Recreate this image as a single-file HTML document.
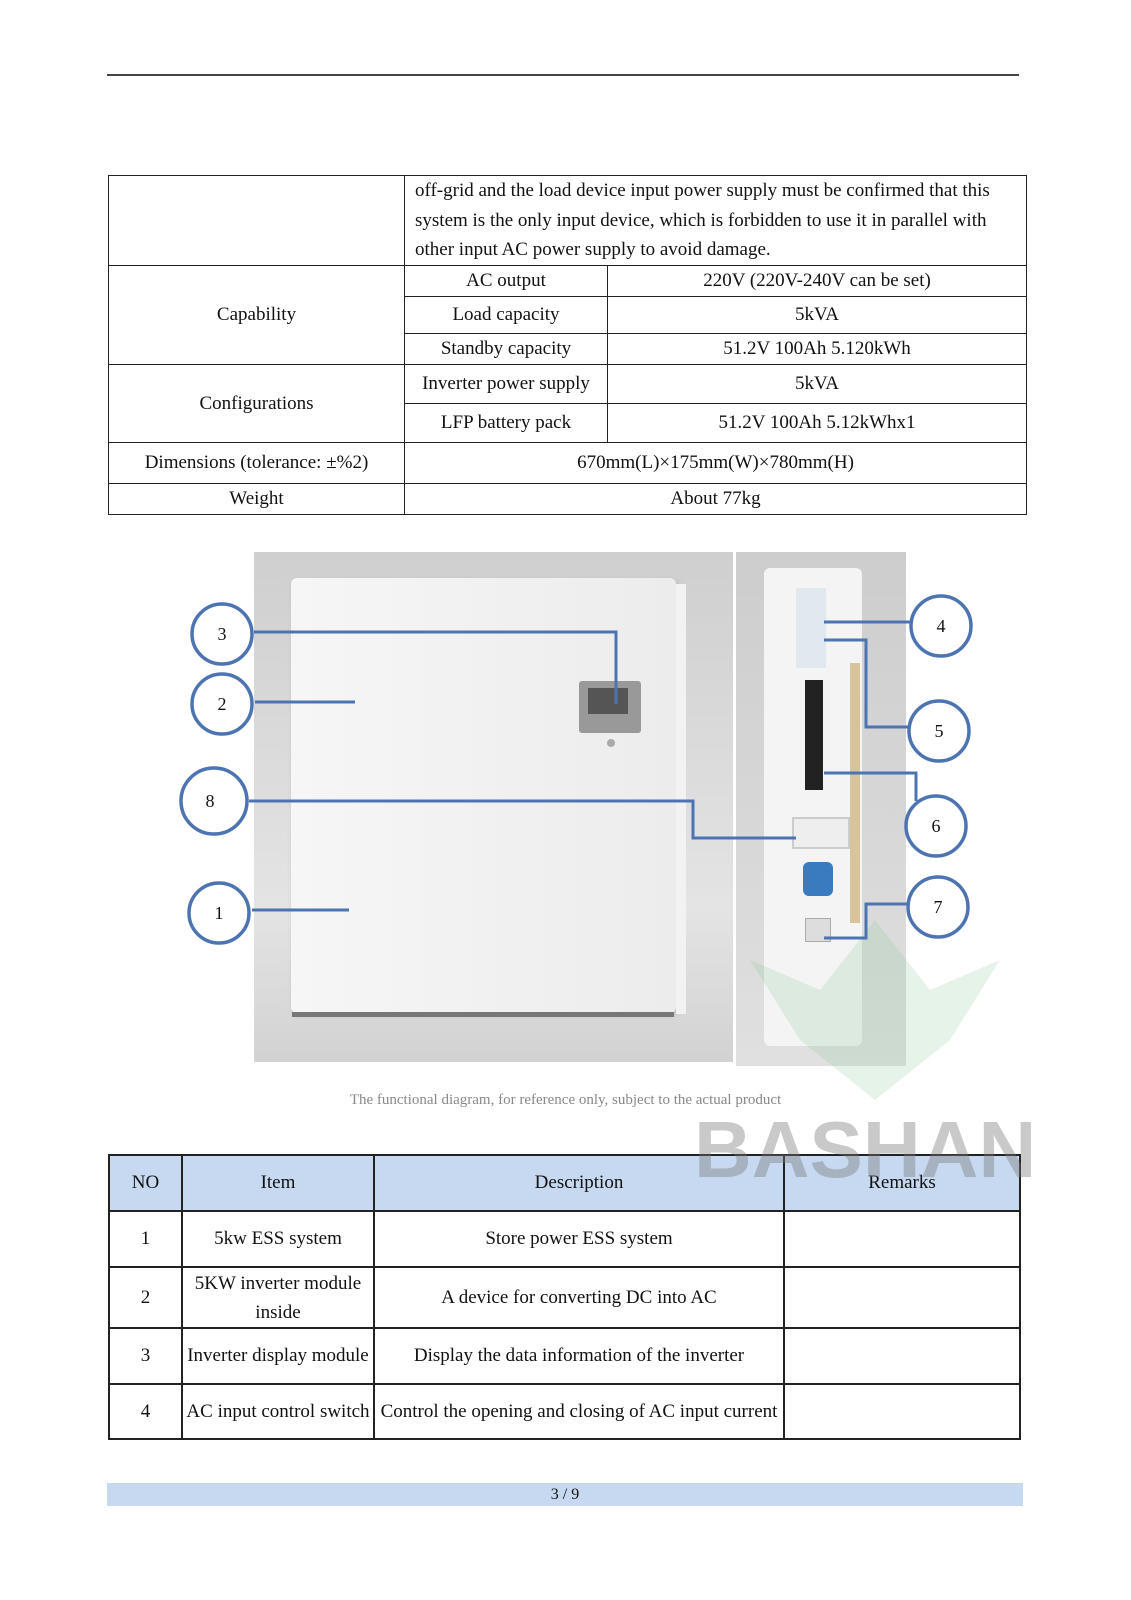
<!DOCTYPE html>
<html><head><meta charset="utf-8"><style>
body{margin:0;width:1131px;height:1600px;background:#fff;position:relative;overflow:hidden;font-family:"Liberation Serif",serif;color:#111}
.a{position:absolute}
table{border-collapse:collapse;position:absolute;font-size:19px}
td{border:1.3px solid #222;text-align:center;padding:0;white-space:nowrap}
</style></head><body>
<div class="a" style="left:107px;top:74px;width:912px;height:1.5px;background:#444"></div>

<table style="left:108px;top:175px;width:919px">
<tr style="height:90px"><td style="width:295px"></td><td colspan="2" style="text-align:left;padding:0 10px;line-height:29.5px;white-space:normal">off-grid and the load device input power supply must be confirmed that this system is the only input device, which is forbidden to use it in parallel with other input AC power supply to avoid damage.</td></tr>
<tr style="height:31px"><td rowspan="3">Capability</td><td style="width:202px">AC output</td><td>220V (220V-240V can be set)</td></tr>
<tr style="height:37px"><td>Load capacity</td><td>5kVA</td></tr>
<tr style="height:31px"><td>Standby capacity</td><td>51.2V 100Ah 5.120kWh</td></tr>
<tr style="height:39px"><td rowspan="2">Configurations</td><td>Inverter power supply</td><td>5kVA</td></tr>
<tr style="height:39px"><td>LFP battery pack</td><td>51.2V 100Ah 5.12kWhx1</td></tr>
<tr style="height:41px"><td>Dimensions (tolerance: ±%2)</td><td colspan="2">670mm(L)×175mm(W)×780mm(H)</td></tr>
<tr style="height:31px"><td>Weight</td><td colspan="2">About 77kg</td></tr>
</table>

<div class="a" style="left:254px;top:552px;width:479px;height:510px;background:linear-gradient(#cfcfcf,#e4e4e4 70%,#d2d2d2)"></div>
<div class="a" style="left:291px;top:578px;width:385px;height:435px;background:linear-gradient(90deg,#f6f6f6,#ececec);border-radius:6px;box-shadow:2px 2px 6px #bbb"></div>
<div class="a" style="left:676px;top:584px;width:10px;height:430px;background:#f2f2f2"></div>
<div class="a" style="left:292px;top:1012px;width:382px;height:5px;background:#777"></div>
<div class="a" style="left:579px;top:681px;width:62px;height:52px;background:#999;border-radius:3px"></div>
<div class="a" style="left:588px;top:688px;width:40px;height:26px;background:#555"></div>
<div class="a" style="left:607px;top:739px;width:8px;height:8px;border-radius:50%;background:#aaa"></div>
<div class="a" style="left:736px;top:552px;width:170px;height:514px;background:linear-gradient(#cdcdcd,#e0e0e0)"></div>
<div class="a" style="left:764px;top:568px;width:98px;height:478px;background:#f4f4f4;border-radius:6px"></div>
<div class="a" style="left:796px;top:588px;width:30px;height:80px;background:#e2e8f0"></div>
<div class="a" style="left:805px;top:680px;width:18px;height:110px;background:#222"></div>
<div class="a" style="left:792px;top:817px;width:54px;height:28px;border:2px solid #ccc;background:#eee"></div>
<div class="a" style="left:803px;top:862px;width:30px;height:34px;border-radius:6px;background:#3a7bc0"></div>
<div class="a" style="left:805px;top:918px;width:24px;height:22px;background:#ddd;border:1px solid #aaa"></div>
<div class="a" style="left:850px;top:663px;width:10px;height:260px;background:#d8c39a"></div>

<div class="a" style="left:0;top:1092px;width:1131px;text-align:center;font-size:15px;color:#888">The functional diagram, for reference only, subject to the actual product</div>

<svg class="a" style="left:740px;top:920px" width="270" height="180"><path d="M10 40 L80 70 L135 0 L190 70 L260 40 L210 120 L135 180 L60 120 Z" fill="rgba(140,200,150,0.22)"/></svg>

<svg class="a" style="left:0;top:0" width="1131" height="1600" fill="none" stroke="#4d74b2" stroke-width="3">
<polyline points="254,632 616,632 616,704"/>
<polyline points="255,702 355,702"/>
<polyline points="249,801 693,801 693,838 796,838"/>
<polyline points="252,910 349,910"/>
<polyline points="824,622 913,622"/>
<polyline points="824,640 866,640 866,727 911,727"/>
<polyline points="824,773 916,773 916,801"/>
<polyline points="824,938 866,938 866,904 911,904"/>
<g fill="#fff" stroke-width="3.5">
<circle cx="222" cy="634" r="30"/><circle cx="222" cy="704" r="30"/><circle cx="214" cy="801" r="33"/><circle cx="219" cy="913" r="30"/>
<circle cx="941" cy="626" r="30"/><circle cx="939" cy="731" r="30"/><circle cx="936" cy="826" r="30"/><circle cx="938" cy="907" r="30"/>
</g>
<g fill="#111" stroke="none" font-family="Liberation Serif" font-size="18" text-anchor="middle">
<text x="222" y="640">3</text><text x="222" y="710">2</text><text x="210" y="807">8</text><text x="219" y="919">1</text>
<text x="941" y="632">4</text><text x="939" y="737">5</text><text x="936" y="832">6</text><text x="938" y="913">7</text>
</g>
</svg>

<table style="left:108px;top:1154px;width:913px;border:2.5px solid #111">
<tr style="height:56px;background:#c6d9f0"><td style="width:71px;border-width:2px">NO</td><td style="width:190px;border-width:2px">Item</td><td style="width:408px;border-width:2px">Description</td><td style="border-width:2px">Remarks</td></tr>
<tr style="height:56px"><td style="border-width:2px">1</td><td style="border-width:2px">5kw ESS system</td><td style="border-width:2px">Store power ESS system</td><td style="border-width:2px"></td></tr>
<tr style="height:61px"><td style="border-width:2px">2</td><td style="line-height:29px;white-space:normal;border-width:2px">5KW inverter module inside</td><td style="border-width:2px">A device for converting DC into AC</td><td style="border-width:2px"></td></tr>
<tr style="height:56px"><td style="border-width:2px">3</td><td style="border-width:2px">Inverter display module</td><td style="border-width:2px">Display the data information of the inverter</td><td style="border-width:2px"></td></tr>
<tr style="height:55px"><td style="border-width:2px">4</td><td style="border-width:2px">AC input control switch</td><td style="border-width:2px">Control the opening and closing of AC input current</td><td style="border-width:2px"></td></tr>
</table>

<div class="a" style="left:694px;top:1110px;font:bold 80px/1 'Liberation Sans',sans-serif;color:rgba(120,120,120,0.4);z-index:5">BASHAN</div>

<div class="a" style="left:107px;top:1483px;width:916px;height:23px;background:#c6d9f0;text-align:center;font-size:16px;line-height:23px">3 / 9</div>
</body></html>
